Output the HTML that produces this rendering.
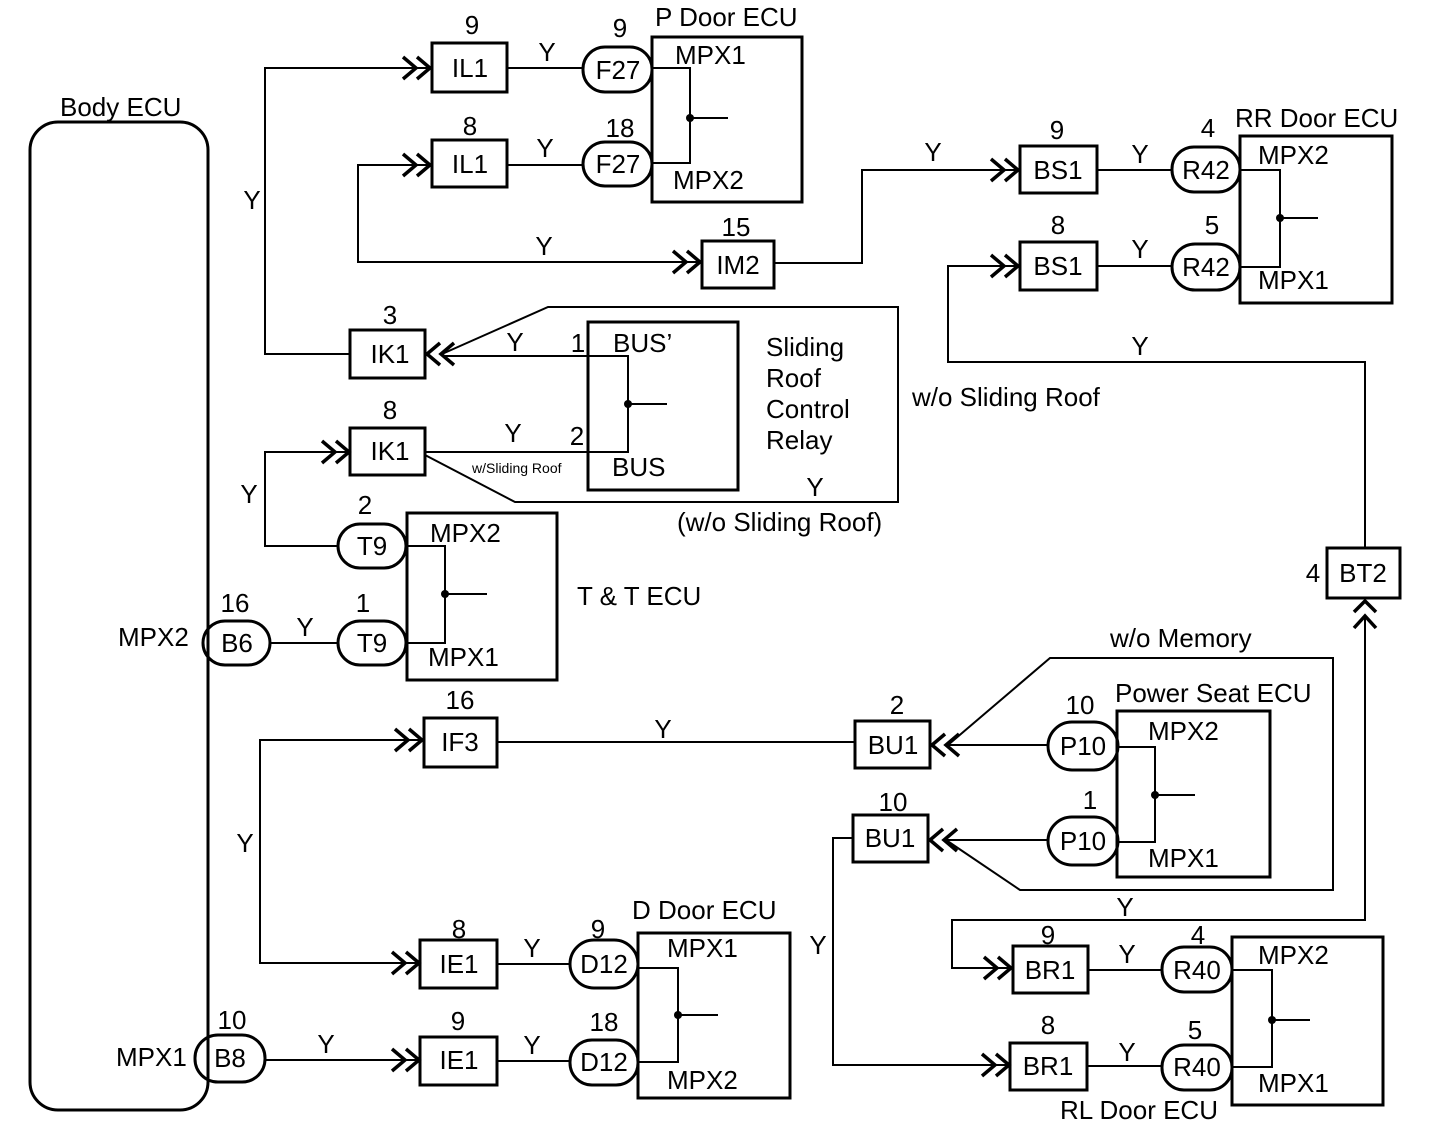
<!DOCTYPE html>
<html><head><meta charset="utf-8"><style>
html,body{margin:0;padding:0;background:#fff}
svg{display:block}
text{font-family:"Liberation Sans",Arial,sans-serif;font-size:26px;fill:#000;dominant-baseline:central}
.m{text-anchor:middle}
.b{fill:none;stroke:#000;stroke-width:3}
.w{fill:none;stroke:#000;stroke-width:2}
.c{fill:none;stroke:#000;stroke-width:3.5}
</style></head><body>
<svg width="1440" height="1128" viewBox="0 0 1440 1128" xmlns="http://www.w3.org/2000/svg">
<!-- Body ECU -->
<rect class="b" x="30" y="122" width="178" height="988" rx="28"/>
<text x="60" y="107">Body ECU</text>
<text x="118" y="637">MPX2</text>
<text x="116" y="1057">MPX1</text>

<!-- B6 -> T9(1) -->
<rect class="b" x="203" y="621" width="67" height="44" rx="22"/><text class="m" x="237" y="643">B6</text><text class="m" x="235" y="603">16</text>
<path class="w" d="M270,643 H338"/><text class="m" x="305" y="627">Y</text>
<rect class="b" x="338" y="621" width="68" height="44" rx="22"/><text class="m" x="372" y="643">T9</text><text class="m" x="363" y="603">1</text>
<rect class="b" x="338" y="524" width="68" height="44" rx="22"/><text class="m" x="372" y="546">T9</text><text class="m" x="365" y="505">2</text>
<rect class="b" x="407" y="513" width="150" height="167"/>
<text x="430" y="533">MPX2</text><text x="428" y="657">MPX1</text>
<path class="w" d="M406,546 H445 V643 H406 M445,594 H487"/><circle cx="445" cy="594" r="4"/>
<text x="577" y="596">T &amp; T ECU</text>

<!-- T9(2) -> IK1(8) -->
<path class="w" d="M338,546 H265 V452 H348"/><text class="m" x="249" y="494">Y</text>
<path class="c" d="M322,441 L335,452 L322,463 M336,441 L349,452 L336,463"/>
<rect class="b" x="350" y="428" width="75" height="47"/><text class="m" x="390" y="451">IK1</text><text class="m" x="390" y="410">8</text>

<!-- IK1(3) -->
<rect class="b" x="350" y="330" width="75" height="48"/><text class="m" x="390" y="354">IK1</text><text class="m" x="390" y="315">3</text>
<path class="w" d="M350,354 H265 V68 H430"/><text class="m" x="252" y="200">Y</text>
<path class="c" d="M440,343 L427,354 L440,365 M454,343 L441,354 L454,365"/>

<!-- sliding roof relay -->
<rect class="b" x="588" y="322" width="150" height="168"/>
<text x="613" y="343">BUS’</text><text x="612" y="467">BUS</text>
<text class="m" x="578" y="343">1</text><text class="m" x="577" y="436">2</text>
<path class="w" d="M442,356 H628 V452 H425 M628,404 H667"/><circle cx="628" cy="404" r="4"/>
<text class="m" x="515" y="342">Y</text><text class="m" x="513" y="433">Y</text>
<path class="w" d="M442,354 L548,307 H898 V502 H515 L425,455"/>
<text x="472" y="468" style="font-size:14px">w/Sliding Roof</text>
<text class="m" x="815" y="487">Y</text>
<text x="677" y="522">(w/o Sliding Roof)</text>
<text x="912" y="397">w/o Sliding Roof</text>
<text x="766" y="347">Sliding</text><text x="766" y="378">Roof</text><text x="766" y="409">Control</text><text x="766" y="440">Relay</text>

<!-- P Door -->
<path class="c" d="M403,57 L416,68 L403,79 M417,57 L430,68 L417,79"/>
<rect class="b" x="432" y="43" width="75" height="49"/><text class="m" x="470" y="68">IL1</text><text class="m" x="472" y="25">9</text>
<path class="w" d="M507,68 H583"/><text class="m" x="547" y="52">Y</text>
<rect class="b" x="583" y="47" width="69" height="45" rx="22"/><text class="m" x="618" y="70">F27</text><text class="m" x="620" y="28">9</text>
<path class="c" d="M403,154 L416,165 L403,176 M417,154 L430,165 L417,176"/>
<rect class="b" x="432" y="140" width="75" height="47"/><text class="m" x="470" y="164">IL1</text><text class="m" x="470" y="126">8</text>
<path class="w" d="M507,165 H583"/><text class="m" x="545" y="148">Y</text>
<rect class="b" x="583" y="142" width="69" height="44" rx="22"/><text class="m" x="618" y="164">F27</text><text class="m" x="620" y="128">18</text>
<rect class="b" x="652" y="37" width="150" height="165"/>
<text x="655" y="17">P Door ECU</text><text x="675" y="55">MPX1</text><text x="673" y="180">MPX2</text>
<path class="w" d="M652,68 H690 V163 H652 M690,118 H728"/><circle cx="690" cy="118" r="4"/>

<!-- IM2 -->
<path class="w" d="M430,165 H358 V262 H700"/><text class="m" x="544" y="246">Y</text>
<path class="c" d="M673,251 L686,262 L673,273 M687,251 L700,262 L687,273"/>
<rect class="b" x="702" y="241" width="72" height="47"/><text class="m" x="738" y="265">IM2</text><text class="m" x="736" y="227">15</text>
<path class="w" d="M774,263 H862 V170 H1018"/><text class="m" x="933" y="152">Y</text>
<path class="c" d="M991,159 L1004,170 L991,181 M1005,159 L1018,170 L1005,181"/>

<!-- RR Door -->
<rect class="b" x="1020" y="146" width="77" height="47"/><text class="m" x="1058" y="170">BS1</text><text class="m" x="1057" y="130">9</text>
<path class="w" d="M1097,170 H1172"/><text class="m" x="1140" y="154">Y</text>
<rect class="b" x="1172" y="147" width="68" height="45" rx="22"/><text class="m" x="1206" y="170">R42</text><text class="m" x="1208" y="128">4</text>
<rect class="b" x="1020" y="242" width="77" height="48"/><text class="m" x="1058" y="266">BS1</text><text class="m" x="1058" y="225">8</text>
<path class="w" d="M1097,266 H1172"/><text class="m" x="1140" y="249">Y</text>
<rect class="b" x="1172" y="244" width="68" height="46" rx="23"/><text class="m" x="1206" y="267">R42</text><text class="m" x="1212" y="225">5</text>
<rect class="b" x="1240" y="136" width="152" height="167"/>
<text x="1235" y="118">RR Door ECU</text><text x="1258" y="155">MPX2</text><text x="1258" y="280">MPX1</text>
<path class="w" d="M1240,170 H1280 V267 H1240 M1280,218 H1318"/><circle cx="1280" cy="218" r="4"/>
<path class="c" d="M991,255 L1004,266 L991,277 M1005,255 L1018,266 L1005,277"/>
<path class="w" d="M1018,266 H948 V362 H1365 V548"/><text class="m" x="1140" y="346">Y</text>

<!-- BT2 -->
<rect class="b" x="1327" y="548" width="73" height="50"/><text class="m" x="1363" y="573">BT2</text><text class="m" x="1313" y="573">4</text>
<path class="c" d="M1354,612 L1365,601 L1376,612 M1354,628 L1365,616 L1376,628"/>
<path class="w" d="M1365,616 V920 H952 V968 H1010"/><text class="m" x="1125" y="907">Y</text>
<path class="c" d="M984,957 L997,968 L984,979 M998,957 L1011,968 L998,979"/>

<!-- IF3 / BU1 / Power seat -->
<path class="c" d="M395,729 L408,740 L395,751 M409,729 L422,740 L409,751"/>
<rect class="b" x="424" y="718" width="73" height="49"/><text class="m" x="460" y="742">IF3</text><text class="m" x="460" y="700">16</text>
<path class="w" d="M497,742 H855"/><text class="m" x="663" y="729">Y</text>
<path class="w" d="M420,740 H260 V963 H418"/><text class="m" x="245" y="843">Y</text>
<rect class="b" x="855" y="721" width="75" height="47"/><text class="m" x="893" y="745">BU1</text><text class="m" x="897" y="705">2</text>
<path class="c" d="M945,734 L932,745 L945,756 M959,734 L946,745 L959,756"/>
<path class="w" d="M948,745 H1048"/>
<rect class="b" x="853" y="815" width="75" height="47"/><text class="m" x="890" y="838">BU1</text><text class="m" x="893" y="802">10</text>
<path class="c" d="M943,829 L930,840 L943,851 M957,829 L944,840 L957,851"/>
<path class="w" d="M946,840 H1048"/>
<path class="w" d="M948,745 L1050,658 H1333 V890 H1020 L946,840"/>
<text x="1110" y="638">w/o Memory</text>
<rect class="b" x="1048" y="722" width="70" height="48" rx="24"/><text class="m" x="1083" y="746">P10</text><text class="m" x="1080" y="705">10</text>
<rect class="b" x="1048" y="817" width="70" height="48" rx="24"/><text class="m" x="1083" y="841">P10</text><text class="m" x="1090" y="800">1</text>
<rect class="b" x="1117" y="711" width="153" height="166"/>
<text x="1115" y="693">Power Seat ECU</text><text x="1148" y="731">MPX2</text><text x="1148" y="858">MPX1</text>
<path class="w" d="M1118,747 H1155 V842 H1118 M1155,795 H1195"/><circle cx="1155" cy="795" r="4"/>
<path class="w" d="M853,838 H833 V1065 H1008"/><text class="m" x="818" y="945">Y</text>
<path class="c" d="M982,1054 L995,1065 L982,1076 M996,1054 L1009,1065 L996,1076"/>

<!-- RL Door -->
<rect class="b" x="1013" y="946" width="75" height="47"/><text class="m" x="1050" y="970">BR1</text><text class="m" x="1048" y="935">9</text>
<path class="w" d="M1088,970 H1162"/><text class="m" x="1127" y="954">Y</text>
<rect class="b" x="1162" y="947" width="70" height="45" rx="22"/><text class="m" x="1197" y="970">R40</text><text class="m" x="1198" y="935">4</text>
<rect class="b" x="1010" y="1043" width="77" height="47"/><text class="m" x="1048" y="1066">BR1</text><text class="m" x="1048" y="1025">8</text>
<path class="w" d="M1087,1066 H1162"/><text class="m" x="1127" y="1052">Y</text>
<rect class="b" x="1162" y="1045" width="70" height="45" rx="22"/><text class="m" x="1197" y="1067">R40</text><text class="m" x="1195" y="1030">5</text>
<rect class="b" x="1232" y="937" width="151" height="168"/>
<text x="1258" y="955">MPX2</text><text x="1258" y="1083">MPX1</text><text x="1060" y="1110">RL Door ECU</text>
<path class="w" d="M1232,970 H1272 V1067 H1232 M1272,1020 H1310"/><circle cx="1272" cy="1020" r="4"/>

<!-- D Door -->
<rect class="b" x="420" y="940" width="77" height="48"/><text class="m" x="459" y="964">IE1</text><text class="m" x="459" y="929">8</text>
<path class="c" d="M392,952 L405,963 L392,974 M406,952 L419,963 L406,974"/>
<path class="w" d="M497,964 H570"/><text class="m" x="532" y="948">Y</text>
<rect class="b" x="570" y="940" width="68" height="48" rx="24"/><text class="m" x="604" y="964">D12</text><text class="m" x="598" y="929">9</text>
<rect class="b" x="420" y="1037" width="77" height="48"/><text class="m" x="459" y="1060">IE1</text><text class="m" x="458" y="1021">9</text>
<path class="c" d="M392,1049 L405,1060 L392,1071 M406,1049 L419,1060 L406,1071"/>
<path class="w" d="M497,1061 H570"/><text class="m" x="532" y="1045">Y</text>
<rect class="b" x="570" y="1040" width="68" height="45" rx="22"/><text class="m" x="604" y="1062">D12</text><text class="m" x="604" y="1022">18</text>
<rect class="b" x="638" y="933" width="152" height="165"/>
<text x="632" y="910">D Door ECU</text><text x="667" y="948">MPX1</text><text x="667" y="1080">MPX2</text>
<path class="w" d="M638,968 H678 V1062 H638 M678,1015 H718"/><circle cx="678" cy="1015" r="4"/>

<!-- B8 -->
<rect class="b" x="195" y="1035" width="70" height="47" rx="23"/><text class="m" x="230" y="1058">B8</text><text class="m" x="232" y="1020">10</text>
<path class="w" d="M265,1060 H418"/><text class="m" x="326" y="1044">Y</text>
</svg>
</body></html>
